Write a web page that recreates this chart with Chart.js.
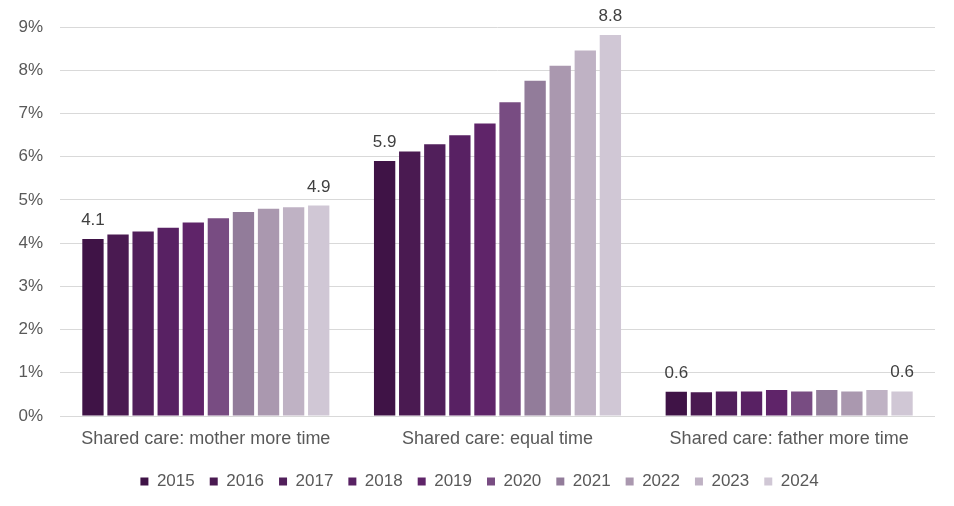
<!DOCTYPE html>
<html>
<head>
<meta charset="utf-8">
<script src="https://cdn.jsdelivr.net/npm/chart.js@4/dist/chart.umd.min.js"></script>
<style>
  html, body { margin: 0; padding: 0; background: #ffffff; }
  #wrap { width: 954px; height: 506px; }
</style>
</head>
<body>
<div id="wrap"><canvas id="chart" width="954" height="506"></canvas></div>
<script>
const categories = ["Shared care: mother more time", "Shared care: equal time", "Shared care: father more time"];
const years = ["2015", "2016", "2017", "2018", "2019", "2020", "2021", "2022", "2023", "2024"];

// share of separated families (%), one row per year, columns follow categories
const values = [
  [4.10, 5.90, 0.56],
  [4.20, 6.12, 0.55],
  [4.27, 6.29, 0.57],
  [4.36, 6.50, 0.57],
  [4.48, 6.77, 0.60],
  [4.58, 7.26, 0.57],
  [4.72, 7.76, 0.60],
  [4.80, 8.11, 0.57],
  [4.83, 8.46, 0.60],
  [4.87, 8.82, 0.57],
];

const yearColors = ["#3f1346", "#4a1a51", "#511f5b", "#582163", "#5f2469",
                    "#784c82", "#927c9a", "#aa98af", "#bfb2c4", "#d0c7d5"];

const FONT = "'Liberation Sans', Arial, sans-serif";

// labels only on the first and last year of each group
const endLabels = {
  id: "endLabels",
  afterDatasetsDraw(chart) {
    const ctx = chart.ctx;
    const last = chart.data.datasets.length - 1;
    ctx.save();
    ctx.font = "17px " + FONT;
    ctx.fillStyle = "#404040";
    ctx.textAlign = "center";
    ctx.textBaseline = "alphabetic";
    [0, last].forEach((di) => {
      const meta = chart.getDatasetMeta(di);
      meta.data.forEach((bar, i) => {
        const v = chart.data.datasets[di].data[i];
        ctx.fillText(v.toFixed(1), bar.x, bar.y - 14);
      });
    });
    ctx.restore();
  },
};

// nudge the legend a little right, like the original
const legendShift = {
  id: "legendShift",
  beforeDraw(chart) {
    const lg = chart.legend;
    if (!lg) return;
    lg.left += 12;
    lg.right += 12;
    lg.top += 2;
    lg.bottom += 2;
  },
};

new Chart(document.getElementById("chart"), {
  type: "bar",
  data: {
    labels: categories,
    datasets: years.map((y, i) => ({
      label: y,
      data: values[i],
      backgroundColor: yearColors[i],
      categoryPercentage: 0.86,
      barPercentage: 0.85,
    })),
  },
  options: {
    responsive: false,
    animation: false,
    layout: { padding: { left: 0, right: 19, top: 25, bottom: 8 } },
    scales: {
      x: {
        grid: { display: false, drawTicks: false },
        border: { display: false },
        ticks: { color: "#595959", font: { family: FONT, size: 18 }, padding: 12 },
        afterFit: (scale) => { scale.height = 40; },
      },
      y: {
        min: 0,
        max: 9,
        grid: { color: "#d9d9d9", lineWidth: 1, drawTicks: false },
        border: { display: false },
        ticks: {
          stepSize: 1,
          padding: 17,
          color: "#595959",
          font: { family: FONT, size: 17 },
          callback: (v) => v + "%",
        },
        afterFit: (scale) => { scale.width = 60; },
      },
    },
    plugins: {
      tooltip: { enabled: false },
      legend: {
        position: "bottom",
        labels: {
          boxWidth: 8,
          boxHeight: 8,
          padding: 15,
          color: "#595959",
          font: { family: FONT, size: 17 },
        },
      },
    },
  },
  plugins: [endLabels, legendShift],
});
</script>
</body>
</html>
